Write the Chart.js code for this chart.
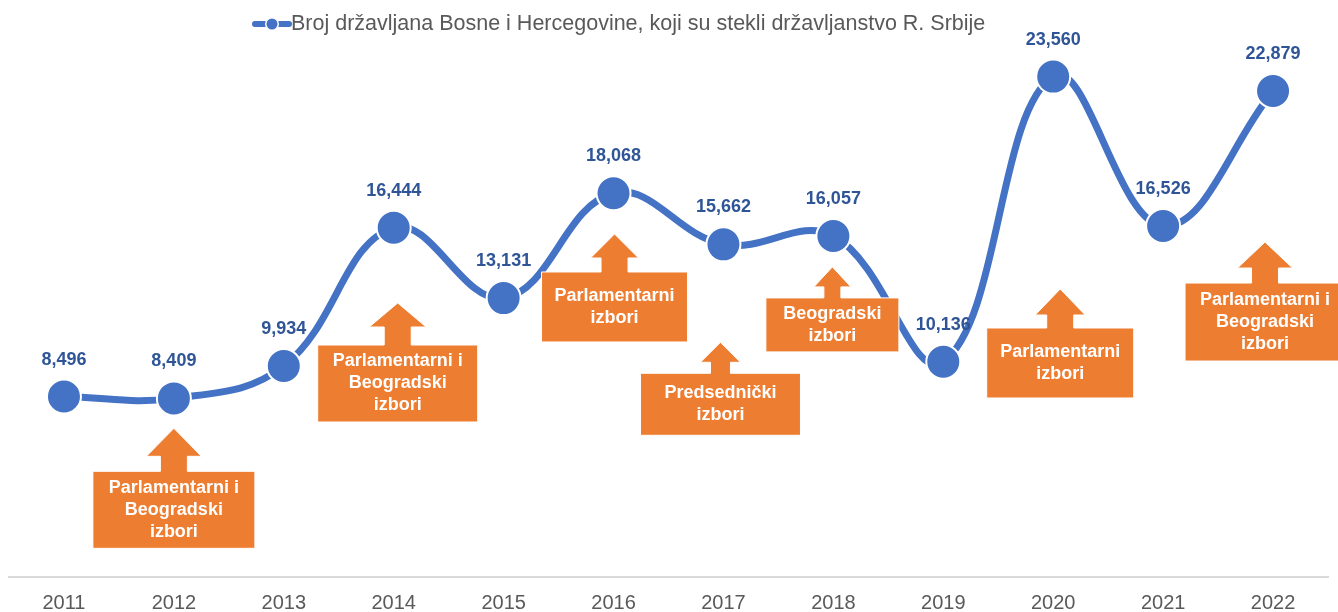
<!DOCTYPE html>
<html>
<head>
<meta charset="utf-8">
<title>Broj državljana BiH - državljanstvo R. Srbije</title>
<style>
html,body{margin:0;padding:0;background:#fff;}
#wrap{width:1338px;height:612px;}
</style>
</head>
<body>
<div id="wrap"><canvas id="chart" width="1338" height="612"></canvas></div>
<script src="https://cdn.jsdelivr.net/npm/chart.js"></script>
<script>
const years = ['2011','2012','2013','2014','2015','2016','2017','2018','2019','2020','2021','2022'];
const citizens = [8496, 8409, 9934, 16444, 13131, 18068, 15662, 16057, 10136, 23560, 16526, 22879];
const seriesName = 'Broj državljana Bosne i Hercegovine, koji su stekli državljanstvo R. Srbije';

// election callouts: year, value the arrow points to, text lines
const calloutYears = ['2012','2014','2016','2017','2018','2020','2022'];
const calloutTips = [7000, 12900, 16150, 11050, 14600, 13560, 15770];
const calloutTexts = [
  ['Parlamentarni i','Beogradski','izbori'],
  ['Parlamentarni i','Beogradski','izbori'],
  ['Parlamentarni','izbori'],
  ['Predsednički','izbori'],
  ['Beogradski','izbori'],
  ['Parlamentarni','izbori'],
  ['Parlamentarni i','Beogradski','izbori']
];
// shape sizes (px), same order as above
const calloutShapes = [
  {dx:0,  boxW:162, boxH:77, headH:28, stemH:15, headW:55, stemW:27},
  {dx:4,  boxW:160, boxH:77, headH:24, stemH:18, headW:57, stemW:27},
  {dx:1,  boxW:146, boxH:70, headH:24, stemH:14, headW:48, stemW:27},
  {dx:-3, boxW:160, boxH:62, headH:20, stemH:11, headW:40, stemW:20},
  {dx:-1, boxW:133, boxH:54, headH:20, stemH:11, headW:37, stemW:17},
  {dx:7,  boxW:147, boxH:70, headH:26, stemH:13, headW:50, stemW:27},
  {dx:-8, boxW:160, boxH:78, headH:26, stemH:15, headW:55, stemW:27}
];

const BLUE = '#4472C4', LABEL_BLUE = '#2F5597', ORANGE = '#ED7D31', GREY = '#595959';
const FONT = "'Liberation Sans', Arial, sans-serif";

const overlay = {
  id: 'overlay',
  afterDatasetsDraw(chart){
    const ctx = chart.ctx, xs = chart.scales.x, ys = chart.scales.y;
    ctx.save();
    calloutYears.forEach((yr,i)=>{
      const s = calloutShapes[i];
      const cx = xs.getPixelForValue(years.indexOf(yr)) + s.dx;
      const tip = ys.getPixelForValue(calloutTips[i]);
      const hb = tip + s.headH, bt = hb + s.stemH, bb = bt + s.boxH;
      ctx.beginPath();
      ctx.moveTo(cx, tip);
      ctx.lineTo(cx + s.headW/2, hb);
      ctx.lineTo(cx + s.stemW/2, hb);
      ctx.lineTo(cx + s.stemW/2, bt);
      ctx.lineTo(cx + s.boxW/2, bt);
      ctx.lineTo(cx + s.boxW/2, bb);
      ctx.lineTo(cx - s.boxW/2, bb);
      ctx.lineTo(cx - s.boxW/2, bt);
      ctx.lineTo(cx - s.stemW/2, bt);
      ctx.lineTo(cx - s.stemW/2, hb);
      ctx.lineTo(cx - s.headW/2, hb);
      ctx.closePath();
      ctx.fillStyle = ORANGE; ctx.fill();
      ctx.strokeStyle = '#fff'; ctx.lineWidth = 1; ctx.stroke();
      const lines = calloutTexts[i];
      ctx.fillStyle = '#fff';
      ctx.font = 'bold 18px ' + FONT;
      ctx.textAlign = 'center'; ctx.textBaseline = 'middle';
      const mid = (bt + bb)/2, lh = 22;
      lines.forEach((t,k)=> ctx.fillText(t, cx, mid + (k - (lines.length-1)/2)*lh));
    });
    // value labels
    const meta = chart.getDatasetMeta(0);
    ctx.fillStyle = LABEL_BLUE;
    ctx.font = 'bold 18px ' + FONT;
    ctx.textAlign = 'center'; ctx.textBaseline = 'middle';
    meta.data.forEach((pt,i)=>{
      ctx.fillText(citizens[i].toLocaleString('en-US'), pt.x, pt.y - 37);
    });
    ctx.restore();
  },
  afterDraw(chart){
    // legend: line-with-dot marker plus series name
    const ctx = chart.ctx;
    const y = 24, x0 = 255, x1 = 289;
    ctx.save();
    ctx.strokeStyle = BLUE; ctx.lineWidth = 6; ctx.lineCap = 'round';
    ctx.beginPath(); ctx.moveTo(x0, y); ctx.lineTo(x1, y); ctx.stroke();
    ctx.fillStyle = '#fff'; ctx.beginPath(); ctx.arc((x0+x1)/2, y, 7, 0, Math.PI*2); ctx.fill();
    ctx.fillStyle = BLUE; ctx.beginPath(); ctx.arc((x0+x1)/2, y, 5.5, 0, Math.PI*2); ctx.fill();
    ctx.fillStyle = GREY;
    ctx.font = '21.5px ' + FONT;
    ctx.textAlign = 'left'; ctx.textBaseline = 'middle';
    ctx.fillText(seriesName, 291, y);
    ctx.restore();
  }
};

new Chart(document.getElementById('chart'), {
  type: 'line',
  data: {
    labels: years,
    datasets: [{
      label: seriesName,
      data: citizens,
      borderColor: BLUE,
      backgroundColor: BLUE,
      borderWidth: 7,
      tension: 0.4,
      pointRadius: 17,
      pointStyle: 'circle',
      pointBackgroundColor: BLUE,
      pointBorderColor: '#fff',
      pointBorderWidth: 2
    }]
  },
  options: {
    responsive: false,
    animation: false,
    layout: { autoPadding: false, padding: { top: 46, left: 9, right: 10, bottom: 0 } },
    plugins: {
      legend: { display: false },
      tooltip: { enabled: false }
    },
    scales: {
      x: {
        offset: true,
        grid: { display: false, drawTicks: false },
        border: { display: true, color: '#D9D9D9', width: 2 },
        ticks: { color: GREY, font: { family: FONT, size: 20, lineHeight: 0.9 }, padding: 17 },
        afterFit(scale){ scale.height = 35; }
      },
      y: {
        display: false,
        min: 0,
        max: 25000
      }
    }
  },
  plugins: [overlay]
});
</script>
</body>
</html>
